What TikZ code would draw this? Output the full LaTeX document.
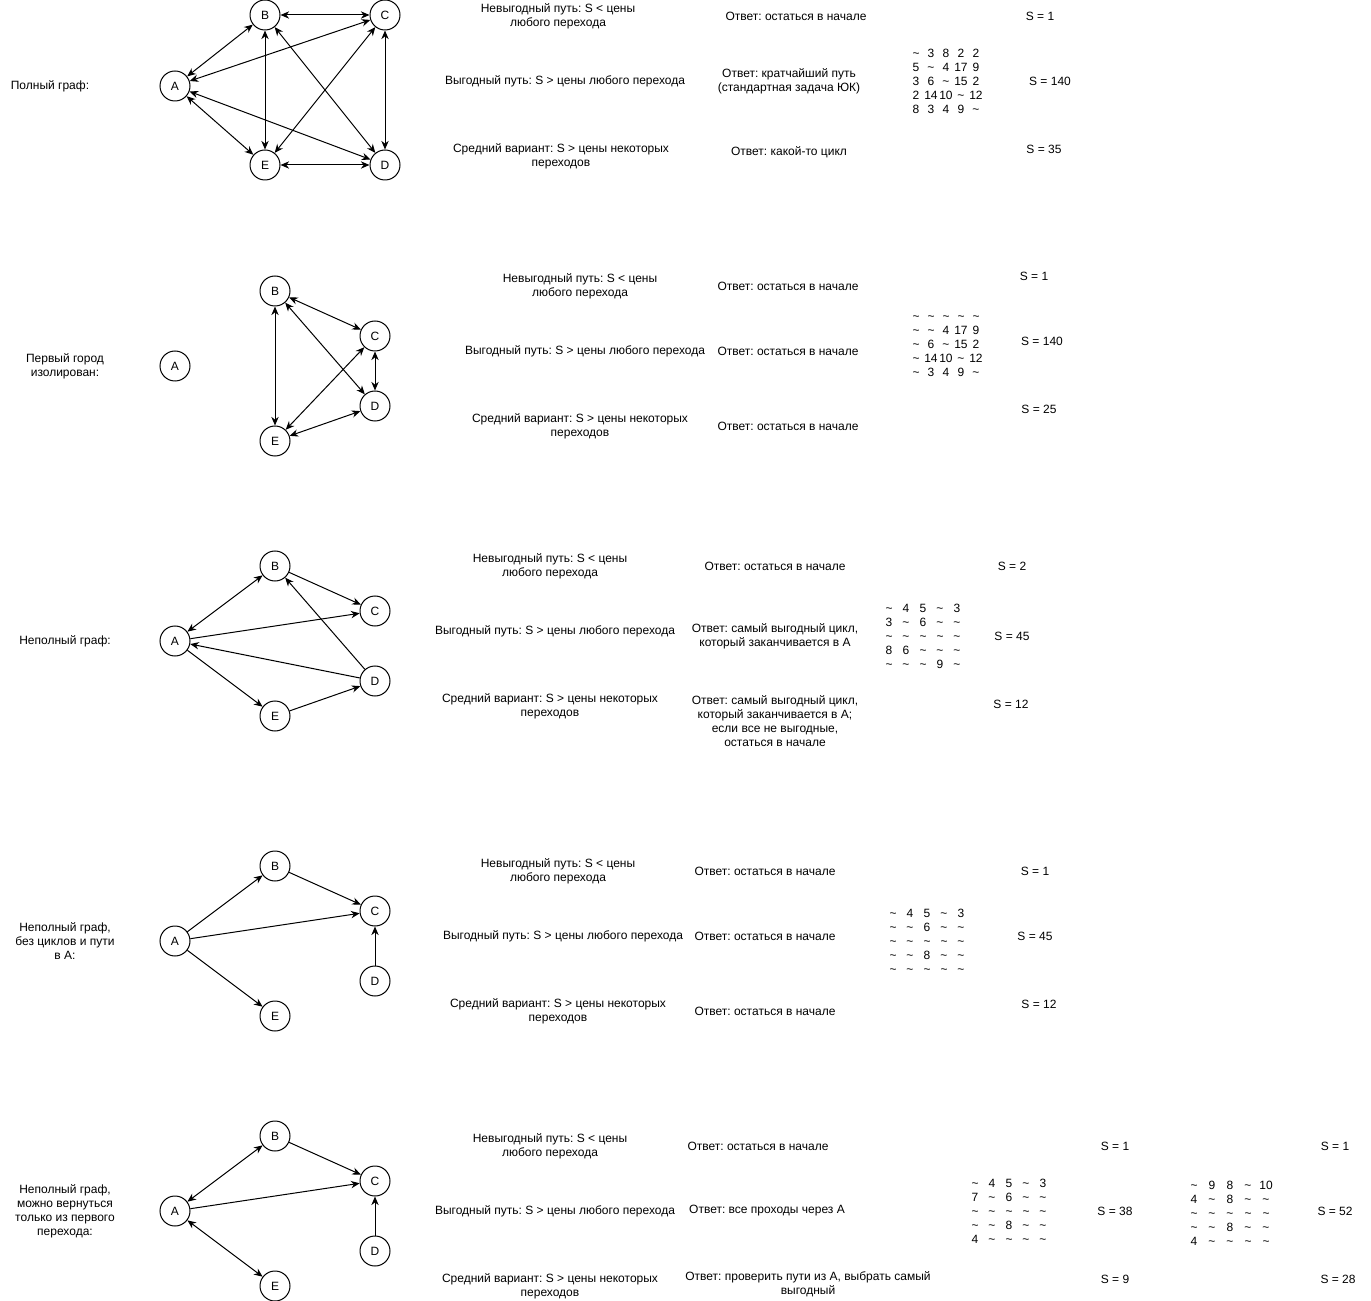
\documentclass[tikz,border=0pt]{standalone}
\usepackage{fontspec}
\setmainfont{Liberation Sans}
\usetikzlibrary{arrows.meta, positioning}
\frenchspacing
\newcommand{\tld}{\textasciitilde}
\newlength{\mcol}
\newcommand{\mrow}[5]{\makebox[\mcol]{#1}\makebox[\mcol]{#2}\makebox[\mcol]{#3}\makebox[\mcol]{#4}\makebox[\mcol]{#5}}

\begin{document}
\begin{tikzpicture}[
        x=0.75pt, y=-0.75pt,
        font=\fontsize{9}{10.5}\selectfont,
        city/.style={circle, draw, minimum size=22.5pt, inner sep=0pt, line width=0.75pt},
        road/.style={-{Stealth[length=6.5pt, width=5.5pt]}, line width=0.75pt},
        both/.style={{Stealth[length=6.5pt, width=5.5pt]}-{Stealth[length=6.5pt, width=5.5pt]}, line width=0.75pt},
        txt/.style={align=center, inner sep=0pt}
    ]
        \useasboundingbox (0,0) rectangle (1371,1301);

        % --- полный граф
        \node[txt] (t1) at (50,86) {Полный граф:};
        \node[city] (A1) at (175,86) {A};
        \node[city] (B1) at (265,15) {B};
        \node[city] (C1) at (385,15) {C};
        \node[city] (D1) at (385,165) {D};
        \node[city] (E1) at (265,165) {E};
        \draw[both] (B1) -- (C1);
        \draw[both] (A1) -- (B1);
        \draw[both] (A1) -- (C1);
        \draw[both] (A1) -- (E1);
        \draw[both] (A1) -- (D1);
        \draw[both] (B1) -- (E1);
        \draw[both] (B1) -- (D1);
        \draw[both] (C1) -- (E1);
        \draw[both] (C1) -- (D1);
        \draw[both] (E1) -- (D1);

        \node[txt] (n1) at (558,16) {Невыгодный путь: S < цены\\любого перехода};
        \node[txt] (o1a) at (796,16) {Ответ: остаться в начале};
        \node[txt] (s1a) at (1040,16) {S = 1};
        \node[txt] (v1) at (565,81) {Выгодный путь: S > цены любого перехода};
        \node[txt] (o1b) at (789,81) {Ответ: кратчайший путь\\(стандартная задача ЮК)};
        \setlength{\mcol}{11.25pt}
        \node[txt] (m1) at (946,81) {\mrow{\tld}{3}{8}{2}{2}\\\mrow{5}{\tld}{4}{17}{9}\\\mrow{3}{6}{\tld}{15}{2}\\\mrow{2}{14}{10}{\tld}{12}\\\mrow{8}{3}{4}{9}{\tld}};
        \node[txt] (s1b) at (1050,81) {S = 140};
        \node[txt] (c1) at (561,156) {Средний вариант: S > цены некоторых\\переходов};
        \node[txt] (o1c) at (789,152) {Ответ: какой-то цикл};
        \node[txt] (s1c) at (1044,149) {S = 35};

        % --- первый город изолирован
        \node[txt] (t2) at (65,366) {Первый город\\изолирован:};
        \node[city] (A2) at (175,366) {A};
        \node[city] (B2) at (275,291) {B};
        \node[city] (C2) at (375,336) {C};
        \node[city] (D2) at (375,406) {D};
        \node[city] (E2) at (275,441) {E};
        \draw[both] (B2) -- (C2);
        \draw[both] (B2) -- (E2);
        \draw[both] (B2) -- (D2);
        \draw[both] (C2) -- (E2);
        \draw[both] (C2) -- (D2);
        \draw[both] (E2) -- (D2);

        \node[txt] (n2) at (580,286) {Невыгодный путь: S < цены\\любого перехода};
        \node[txt] (o2a) at (788,286) {Ответ: остаться в начале};
        \node[txt] (s2a) at (1034,276) {S = 1};
        \node[txt] (v2) at (585,351) {Выгодный путь: S > цены любого перехода};
        \node[txt] (o2b) at (788,351) {Ответ: остаться в начале};
        \node[txt] (m2) at (946,346) {\mrow{\tld}{\tld}{\tld}{\tld}{\tld}\\\mrow{\tld}{\tld}{4}{17}{9}\\\mrow{\tld}{6}{\tld}{15}{2}\\\mrow{\tld}{14}{10}{\tld}{12}\\\mrow{\tld}{3}{4}{9}{\tld}};
        \node[txt] (s2b) at (1042,341) {S = 140};
        \node[txt] (c2) at (580,426) {Средний вариант: S > цены некоторых\\переходов};
        \node[txt] (o2c) at (788,426) {Ответ: остаться в начале};
        \node[txt] (s2c) at (1039,409) {S = 25};

        % --- неполный граф
        \node[txt] (t3) at (65,641) {Неполный граф:};
        \node[city] (A3) at (175,641) {A};
        \node[city] (B3) at (275,566) {B};
        \node[city] (C3) at (375,611) {C};
        \node[city] (D3) at (375,681) {D};
        \node[city] (E3) at (275,716) {E};
        \draw[both] (A3) -- (B3);
        \draw[road] (B3) -- (C3);
        \draw[road] (A3) -- (C3);
        \draw[road] (D3) -- (A3);
        \draw[road] (D3) -- (B3);
        \draw[road] (A3) -- (E3);
        \draw[road] (E3) -- (D3);

        \node[txt] (n3) at (550,566) {Невыгодный путь: S < цены\\любого перехода};
        \node[txt] (o3a) at (775,566) {Ответ: остаться в начале};
        \node[txt] (s3a) at (1012,566) {S = 2};
        \node[txt] (v3) at (555,631) {Выгодный путь: S > цены любого перехода};
        \node[txt] (o3b) at (775,636) {Ответ: самый выгодный цикл,\\который заканчивается в А};
        \setlength{\mcol}{12.75pt}
        \node[txt] (m3) at (923,636) {\mrow{\tld}{4}{5}{\tld}{3}\\\mrow{3}{\tld}{6}{\tld}{\tld}\\\mrow{\tld}{\tld}{\tld}{\tld}{\tld}\\\mrow{8}{6}{\tld}{\tld}{\tld}\\\mrow{\tld}{\tld}{\tld}{9}{\tld}};
        \node[txt] (s3b) at (1012,636) {S = 45};
        \node[txt] (c3) at (550,706) {Средний вариант: S > цены некоторых\\переходов};
        \node[txt] (o3c) at (775,721) {Ответ: самый выгодный цикл,\\который заканчивается в А;\\если все не выгодные,\\остаться в начале};
        \node[txt] (s3c) at (1011,704) {S = 12};

        % --- без циклов и пути в А
        \node[txt] (t4) at (65,941) {Неполный граф,\\без циклов и пути\\в А:};
        \node[city] (A4) at (175,941) {A};
        \node[city] (B4) at (275,866) {B};
        \node[city] (C4) at (375,911) {C};
        \node[city] (D4) at (375,981) {D};
        \node[city] (E4) at (275,1016) {E};
        \draw[road] (A4) -- (B4);
        \draw[road] (B4) -- (C4);
        \draw[road] (A4) -- (C4);
        \draw[road] (D4) -- (C4);
        \draw[road] (A4) -- (E4);

        \node[txt] (n4) at (558,871) {Невыгодный путь: S < цены\\любого перехода};
        \node[txt] (o4a) at (765,871) {Ответ: остаться в начале};
        \node[txt] (s4a) at (1035,871) {S = 1};
        \node[txt] (v4) at (563,936) {Выгодный путь: S > цены любого перехода};
        \node[txt] (o4b) at (765,936) {Ответ: остаться в начале};
        \node[txt] (m4) at (927,941) {\mrow{\tld}{4}{5}{\tld}{3}\\\mrow{\tld}{\tld}{6}{\tld}{\tld}\\\mrow{\tld}{\tld}{\tld}{\tld}{\tld}\\\mrow{\tld}{\tld}{8}{\tld}{\tld}\\\mrow{\tld}{\tld}{\tld}{\tld}{\tld}};
        \node[txt] (s4b) at (1035,936) {S = 45};
        \node[txt] (c4) at (558,1011) {Средний вариант: S > цены некоторых\\переходов};
        \node[txt] (o4c) at (765,1011) {Ответ: остаться в начале};
        \node[txt] (s4c) at (1039,1004) {S = 12};

        % --- вернуться только из первого перехода
        \node[txt] (t5) at (65,1211) {Неполный граф,\\можно вернуться\\только из первого\\перехода:};
        \node[city] (A5) at (175,1211) {A};
        \node[city] (B5) at (275,1136) {B};
        \node[city] (C5) at (375,1181) {C};
        \node[city] (D5) at (375,1251) {D};
        \node[city] (E5) at (275,1286) {E};
        \draw[both] (A5) -- (B5);
        \draw[road] (B5) -- (C5);
        \draw[road] (A5) -- (C5);
        \draw[road] (D5) -- (C5);
        \draw[both] (A5) -- (E5);

        \node[txt] (n5) at (550,1146) {Невыгодный путь: S < цены\\любого перехода};
        \node[txt] (o5a) at (758,1146) {Ответ: остаться в начале};
        \node[txt] (s5a) at (1115,1146) {S = 1};
        \node[txt] (s5d) at (1335,1146) {S = 1};
        \node[txt] (v5) at (555,1211) {Выгодный путь: S > цены любого перехода};
        \node[txt] (o5b) at (767,1211) {Ответ: все проходы через А};
        \node[txt] (m5) at (1009,1211) {\mrow{\tld}{4}{5}{\tld}{3}\\\mrow{7}{\tld}{6}{\tld}{\tld}\\\mrow{\tld}{\tld}{\tld}{\tld}{\tld}\\\mrow{\tld}{\tld}{8}{\tld}{\tld}\\\mrow{4}{\tld}{\tld}{\tld}{\tld}};
        \node[txt] (s5b) at (1115,1211) {S = 38};
        \setlength{\mcol}{13.5pt}
        \node[txt] (m6) at (1230,1213) {\mrow{\tld}{9}{8}{\tld}{10}\\\mrow{4}{\tld}{8}{\tld}{\tld}\\\mrow{\tld}{\tld}{\tld}{\tld}{\tld}\\\mrow{\tld}{\tld}{8}{\tld}{\tld}\\\mrow{4}{\tld}{\tld}{\tld}{\tld}};
        \node[txt] (s5e) at (1335,1211) {S = 52};
        \node[txt] (c5) at (550,1286) {Средний вариант: S > цены некоторых\\переходов};
        \node[txt] (o5c) at (808,1284) {Ответ: проверить пути из А, выбрать самый\\выгодный};
        \node[txt] (s5c) at (1115,1279) {S = 9};
        \node[txt] (s5f) at (1338,1279) {S = 28};
    \end{tikzpicture}
\end{document}
